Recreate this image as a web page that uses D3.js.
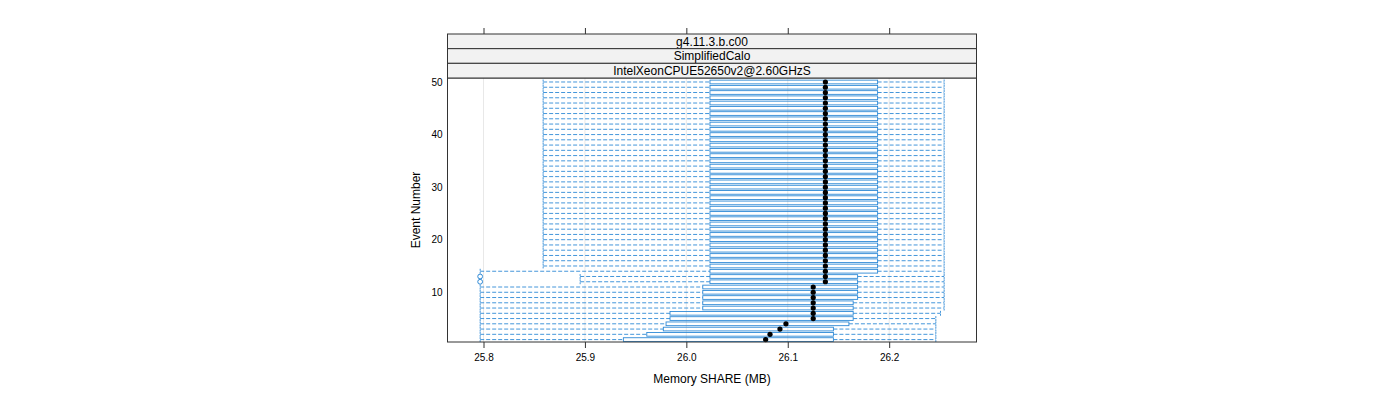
<!DOCTYPE html>
<html><head><meta charset="utf-8">
<script src="https://cdn.jsdelivr.net/npm/d3@7/dist/d3.min.js"></script>
<style>
body{margin:0;background:#fff;}
svg text{font-family:"Liberation Sans",Arial,Helvetica,sans-serif;fill:#000;}
</style>
</head><body>
<svg id="chart" width="1400" height="400"></svg>
<script>
const events = [1,2,3,4,5,6,7,8,9,10,11,12,13,14,15,16,17,18,19,20,21,22,23,24,25,26,27,28,29,30,31,32,33,34,35,36,37,38,39,40,41,42,43,44,45,46,47,48,49,50];
const whiskerLow = [25.7967,25.7967,25.7967,25.7967,25.7967,25.7967,25.7967,25.7967,25.7967,25.7967,
  25.7967,25.8953,25.8953,25.7967,25.8588,25.8588,25.8588,25.8588,25.8588,25.8588,
  25.8588,25.8588,25.8588,25.8588,25.8588,25.8588,25.8588,25.8588,25.8588,25.8588,
  25.8588,25.8588,25.8588,25.8588,25.8588,25.8588,25.8588,25.8588,25.8588,25.8588,
  25.8588,25.8588,25.8588,25.8588,25.8588,25.8588,25.8588,25.8588,25.8588,25.8588];
const boxLow = [25.9379,25.9610,25.9773,25.9800,25.9839,25.9839,26.0162,26.0162,26.0162,26.0162,
  26.0162,26.0233,26.0233,26.0233,26.0233,26.0233,26.0233,26.0233,26.0233,26.0233,
  26.0233,26.0233,26.0233,26.0233,26.0233,26.0233,26.0233,26.0233,26.0233,26.0233,
  26.0233,26.0233,26.0233,26.0233,26.0233,26.0233,26.0233,26.0233,26.0233,26.0233,
  26.0233,26.0233,26.0233,26.0233,26.0233,26.0233,26.0233,26.0233,26.0233,26.0233];
const median = [26.0782,26.0825,26.0923,26.0982,26.1251,26.1251,26.1251,26.1251,26.1251,26.1251,
  26.1251,26.1371,26.1371,26.1371,26.1371,26.1371,26.1371,26.1371,26.1371,26.1371,
  26.1371,26.1371,26.1371,26.1371,26.1371,26.1371,26.1371,26.1371,26.1371,26.1371,
  26.1371,26.1371,26.1371,26.1371,26.1371,26.1371,26.1371,26.1371,26.1371,26.1371,
  26.1371,26.1371,26.1371,26.1371,26.1371,26.1371,26.1371,26.1371,26.1371,26.1371];
const boxHigh = [26.1450,26.1450,26.1450,26.1603,26.1645,26.1645,26.1645,26.1645,26.1689,26.1689,
  26.1689,26.1689,26.1689,26.1886,26.1886,26.1886,26.1886,26.1886,26.1886,26.1886,
  26.1886,26.1886,26.1886,26.1886,26.1886,26.1886,26.1886,26.1886,26.1886,26.1886,
  26.1886,26.1886,26.1886,26.1886,26.1886,26.1886,26.1886,26.1886,26.1886,26.1886,
  26.1886,26.1886,26.1886,26.1886,26.1886,26.1886,26.1886,26.1886,26.1886,26.1886];
const whiskerHigh = [26.2460,26.2460,26.2460,26.2460,26.2460,26.2506,26.2542,26.2542,26.2542,26.2542,
  26.2542,26.2542,26.2542,26.2542,26.2542,26.2542,26.2542,26.2542,26.2542,26.2542,
  26.2542,26.2542,26.2542,26.2542,26.2542,26.2542,26.2542,26.2542,26.2542,26.2542,
  26.2542,26.2542,26.2542,26.2542,26.2542,26.2542,26.2542,26.2542,26.2542,26.2542,
  26.2542,26.2542,26.2542,26.2542,26.2542,26.2542,26.2542,26.2542,26.2542,26.2542];
const outlierEvents = [12, 13];
const outlierValues = [25.7967, 25.7967];
const xTicks = [25.8, 25.9, 26.0, 26.1, 26.2];
const yTicks = [10, 20, 30, 40, 50];
const strips = ["g4.11.3.b.c00", "SimplifiedCalo", "IntelXeonCPUE52650v2@2.60GHzS"];
const xTitle = "Memory SHARE (MB)";
const yTitle = "Event Number";

const blue = "#2f8ad6";
const svg = d3.select("#chart");
const L = 447.5, R = 976.5, T = 78, B = 342;
const stripTop = 34, stripH = (T - stripTop) / strips.length;

const x = d3.scaleLinear().domain([25.7645, 26.2861]).range([L, R]);
const y = d3.scaleLinear().domain([0.54, 50.76]).range([B, T]);
const bh = 3.7; // box height px

// grid
svg.append("g").selectAll("line").data(xTicks).join("line")
  .attr("x1", d => x(d)).attr("x2", d => x(d)).attr("y1", T).attr("y2", B)
  .attr("stroke", "#e8e8e8").attr("stroke-width", 1);

const rows = events.map((e, i) => ({e, wl: whiskerLow[i], bl: boxLow[i], md: median[i], bhv: boxHigh[i], wh: whiskerHigh[i]}));
const g = svg.append("g");
const dash = "4,2";
// whiskers
g.selectAll(".wl").data(rows).join("line")
  .attr("x1", d => x(d.wl)).attr("x2", d => x(d.bl)).attr("y1", d => y(d.e)).attr("y2", d => y(d.e))
  .attr("stroke", blue).attr("stroke-width", 0.9).attr("stroke-dasharray", dash);
g.selectAll(".wh").data(rows).join("line")
  .attr("x1", d => x(d.bhv)).attr("x2", d => x(d.wh)).attr("y1", d => y(d.e)).attr("y2", d => y(d.e))
  .attr("stroke", blue).attr("stroke-width", 0.9).attr("stroke-dasharray", dash);
// staples
g.selectAll(".sl").data(rows).join("line")
  .attr("x1", d => x(d.wl)).attr("x2", d => x(d.wl)).attr("y1", d => y(d.e) - bh/2 - 0.6).attr("y2", d => y(d.e) + bh/2 + 0.6)
  .attr("stroke", blue).attr("stroke-width", 0.9).attr("stroke-dasharray", "2,1");
g.selectAll(".sh").data(rows).join("line")
  .attr("x1", d => x(d.wh)).attr("x2", d => x(d.wh)).attr("y1", d => y(d.e) - bh/2 - 0.6).attr("y2", d => y(d.e) + bh/2 + 0.6)
  .attr("stroke", blue).attr("stroke-width", 0.9).attr("stroke-dasharray", "2,1");
// boxes
g.selectAll("rect").data(rows).join("rect")
  .attr("x", d => x(d.bl)).attr("width", d => x(d.bhv) - x(d.bl))
  .attr("y", d => y(d.e) - bh/2).attr("height", bh)
  .attr("fill", "none").attr("stroke", blue).attr("stroke-width", 0.9);
// medians
g.selectAll(".md").data(rows).join("circle")
  .attr("cx", d => x(d.md)).attr("cy", d => y(d.e)).attr("r", 2.6).attr("fill", "#000");
// outliers
g.selectAll(".out").data(outlierEvents.map((e, i) => ({e, v: outlierValues[i]}))).join("circle")
  .attr("cx", d => x(d.v)).attr("cy", d => y(d.e)).attr("r", 2.4)
  .attr("fill", "none").attr("stroke", blue).attr("stroke-width", 1);

// panel border
svg.append("rect").attr("x", L).attr("y", T).attr("width", R - L).attr("height", B - T)
  .attr("fill", "none").attr("stroke", "#333").attr("stroke-width", 1);

// strips
strips.forEach((s, i) => {
  const yy = stripTop + i * stripH;
  svg.append("rect").attr("x", L).attr("y", yy).attr("width", R - L).attr("height", stripH)
    .attr("fill", "#f2f2f2").attr("stroke", "#333").attr("stroke-width", 1);
  svg.append("text").attr("x", (L + R) / 2).attr("y", yy + stripH / 2 + 4.3)
    .attr("text-anchor", "middle").attr("font-size", 12).text(s);
});

// bottom axis
const xb = svg.append("g").attr("transform", `translate(0,${B})`)
  .call(d3.axisBottom(x).tickValues(xTicks).tickFormat(d3.format(".1f")).tickSize(6).tickPadding(6));
xb.select(".domain").remove();
xb.selectAll("line").attr("stroke", "#333");
xb.selectAll("text").attr("font-size", 10).style("font-family", "Liberation Sans, Arial, sans-serif");
// top axis ticks (no labels)
const xt = svg.append("g").attr("transform", `translate(0,${stripTop})`)
  .call(d3.axisTop(x).tickValues(xTicks).tickFormat("").tickSize(6));
xt.select(".domain").remove();
xt.selectAll("line").attr("stroke", "#333");
// left axis labels
const yl = svg.append("g").attr("transform", `translate(${L},0)`)
  .call(d3.axisLeft(y).tickValues(yTicks).tickSize(0).tickPadding(5));
yl.select(".domain").remove();
yl.selectAll("text").attr("font-size", 10).style("font-family", "Liberation Sans, Arial, sans-serif");

// titles
svg.append("text").attr("x", (L + R) / 2).attr("y", 383).attr("text-anchor", "middle")
  .attr("font-size", 12).text(xTitle);
svg.append("text").attr("transform", `translate(420,${(T + B) / 2}) rotate(-90)`)
  .attr("text-anchor", "middle").attr("font-size", 12).text(yTitle);
</script>
</body></html>
